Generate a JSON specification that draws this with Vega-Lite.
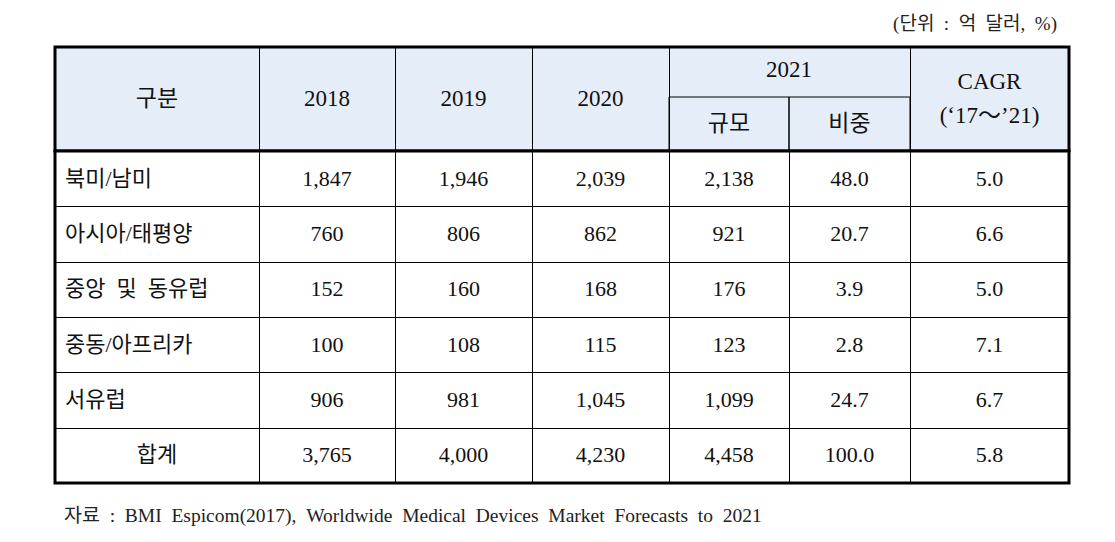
{
  "$schema": "https://vega.github.io/schema/vega-lite/v6.json",
  "background": "white",
  "padding": {"left": 53, "top": 13, "right": 20, "bottom": 10},
  "bounds": "flush",
  "spacing": -1,
  "config": {
    "view": {"stroke": null},
    "title": {"font": "Liberation Serif, Noto Sans CJK KR", "fontWeight": "normal", "color": "#222"},
    "text": {"font": "Liberation Serif, Noto Sans CJK KR", "fontSize": 22, "color": "#111"},
    "axis": {"labels": false, "ticks": false, "domain": false, "title": null, "grid": true, "gridColor": "black", "gridWidth": 1, "gridOpacity": 1}
  },
  "vconcat": [
    {
      "width": 1014,
      "height": 104,
      "view": {"fill": "#E5EDF8", "stroke": "black", "strokeWidth": 3},
      "title": {"text": "(단위\u2002:\u2002억\u2002달러,\u2002%)", "anchor": "end", "fontSize": 19, "offset": 13, "dx": -12},
      "data": {"values": [
        {"label": "구분", "key": "구분", "tier": "span"},
        {"label": "2018", "key": "2018", "tier": "span"},
        {"label": "2019", "key": "2019", "tier": "span"},
        {"label": "2020", "key": "2020", "tier": "span"},
        {"label": "2021", "key": "2021", "tier": "top"},
        {"label": "규모", "key": "규모", "tier": "bottom"},
        {"label": "비중", "key": "비중", "tier": "bottom"},
        {"label": "CAGR\n(‘17～’21)", "key": "CAGR", "tier": "span"}
      ]},
      "transform": [
        {"calculate": "datum.key == '2021' ? 4 : indexof(['구분','2018','2019','2020','규모','비중','CAGR'], datum.key)", "as": "c0"},
        {"calculate": "datum.key == '2021' ? 6 : datum.c0 + 1", "as": "c1"},
        {"calculate": "(datum.c0 + datum.c1) / 2", "as": "xm"}
      ],
      "layer": [
        {
          "transform": [{"filter": "datum.tier == 'bottom'"}],
          "mark": {"type": "rect", "fill": null, "stroke": "black", "strokeWidth": 1},
          "encoding": {
            "x": {"field": "c0", "type": "quantitative", "scale": {"domain": [0, 1, 2, 3, 4, 5, 6, 7], "range": [0, 204, 340, 477, 614, 734, 855, 1014], "zero": false, "nice": false}, "axis": {"values": [1, 2, 3, 4, 6]}},
            "x2": {"field": "c1"},
            "y": {"field": "tier", "type": "nominal", "scale": {"domain": ["top", "bottom"], "range": [-4, 104], "paddingInner": 0, "paddingOuter": 0}, "axis": null}
          }
        },
        {
          "transform": [{"filter": "datum.tier != 'span'"}],
          "mark": {"type": "text", "fontSize": 23},
          "encoding": {
            "x": {"field": "xm", "type": "quantitative", "axis": {"values": [1, 2, 3, 4, 6]}},
            "y": {"field": "tier", "type": "nominal", "axis": null},
            "text": {"field": "label"}
          }
        },
        {
          "transform": [{"filter": "datum.tier == 'span' && datum.key != 'CAGR'"}],
          "mark": {"type": "text", "fontSize": 23},
          "encoding": {
            "x": {"field": "xm", "type": "quantitative", "axis": {"values": [1, 2, 3, 4, 6]}},
            "text": {"field": "label"}
          }
        },
        {
          "transform": [{"filter": "datum.key == 'CAGR'"}],
          "mark": {"type": "text", "fontSize": 23, "lineBreak": "\n", "lineHeight": 34, "dy": -17},
          "encoding": {
            "x": {"field": "xm", "type": "quantitative", "axis": {"values": [1, 2, 3, 4, 6]}},
            "text": {"field": "label"}
          }
        }
      ]
    },
    {
      "width": 1014,
      "height": 332,
      "view": {"fill": "white", "stroke": "black", "strokeWidth": 3},
      "title": {"text": "자료\u2002:\u2002BMI\u2002Espicom(2017),\u2002Worldwide\u2002Medical\u2002Devices\u2002Market\u2002Forecasts\u2002to\u20022021", "orient": "bottom", "anchor": "start", "fontSize": 19.5, "offset": 24, "dx": 9},
      "data": {"values": [
        {"region": "북미/남미", "v2018": 1847, "v2019": 1946, "v2020": 2039, "size": 2138, "share": 48.0, "cagr": 5.0},
        {"region": "아시아/태평양", "v2018": 760, "v2019": 806, "v2020": 862, "size": 921, "share": 20.7, "cagr": 6.6},
        {"region": "중앙\u2002및\u2002동유럽", "v2018": 152, "v2019": 160, "v2020": 168, "size": 176, "share": 3.9, "cagr": 5.0},
        {"region": "중동/아프리카", "v2018": 100, "v2019": 108, "v2020": 115, "size": 123, "share": 2.8, "cagr": 7.1},
        {"region": "서유럽", "v2018": 906, "v2019": 981, "v2020": 1045, "size": 1099, "share": 24.7, "cagr": 6.7},
        {"region": "합계", "v2018": 3765, "v2019": 4000, "v2020": 4230, "size": 4458, "share": 100.0, "cagr": 5.8}
      ]},
      "encoding": {
        "y": {"field": "region", "type": "nominal", "sort": null, "scale": {"paddingInner": 0, "paddingOuter": 0}, "axis": {"tickBand": "extent"}}
      },
      "layer": [
        {
          "transform": [{"filter": "datum.region != '합계'"}],
          "mark": {"type": "text", "align": "left", "dx": 10},
          "encoding": {
            "x": {"datum": 0, "type": "quantitative", "scale": {"domain": [0, 1, 2, 3, 4, 5, 6, 7], "range": [0, 204, 340, 477, 614, 734, 855, 1014], "zero": false, "nice": false}, "axis": {"values": [1, 2, 3, 4, 5, 6]}},
            "text": {"field": "region"}
          }
        },
        {
          "transform": [{"filter": "datum.region == '합계'"}],
          "mark": {"type": "text"},
          "encoding": {
            "x": {"datum": 0.5, "type": "quantitative", "axis": {"values": [1, 2, 3, 4, 5, 6]}},
            "text": {"field": "region"}
          }
        },
        {
          "transform": [
            {"fold": ["v2018", "v2019", "v2020", "size"], "as": ["key", "value"]},
            {"calculate": "indexof(['v2018','v2019','v2020','size'], datum.key) + 1.5", "as": "xm"}
          ],
          "mark": {"type": "text"},
          "encoding": {
            "x": {"field": "xm", "type": "quantitative", "axis": {"values": [1, 2, 3, 4, 5, 6]}},
            "text": {"field": "value", "type": "quantitative", "format": ",.0f"}
          }
        },
        {
          "transform": [
            {"fold": ["share", "cagr"], "as": ["key", "value"]},
            {"calculate": "indexof(['share','cagr'], datum.key) + 5.5", "as": "xm"}
          ],
          "mark": {"type": "text"},
          "encoding": {
            "x": {"field": "xm", "type": "quantitative", "axis": {"values": [1, 2, 3, 4, 5, 6]}},
            "text": {"field": "value", "type": "quantitative", "format": ".1f"}
          }
        }
      ]
    }
  ]
}
